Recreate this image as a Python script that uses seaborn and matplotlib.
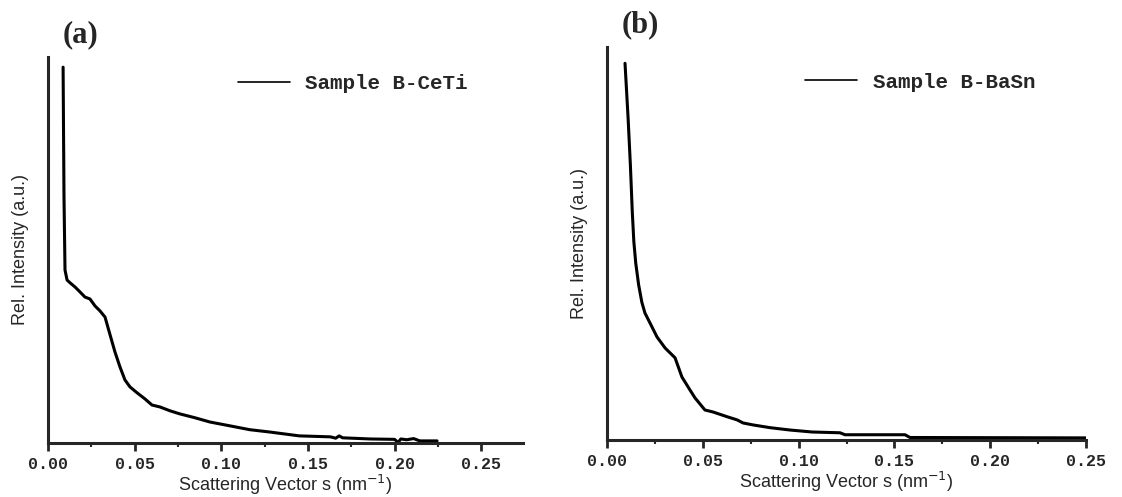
import numpy as np
import pandas as pd
import seaborn as sns
import matplotlib.pyplot as plt
from matplotlib.ticker import MultipleLocator

# scattering vector s (nm^-1) and relative intensity
s_ceti = [0.0087, 0.0092, 0.0092, 0.0098, 0.0110, 0.0127, 0.0156, 0.0185, 0.0213,
          0.0242, 0.0271, 0.0300, 0.0329, 0.0358, 0.0386, 0.0415, 0.0444, 0.0473,
          0.0513, 0.0559, 0.0600, 0.0646, 0.0704, 0.0761, 0.0848, 0.0934, 0.1050,
          0.1165, 0.1280, 0.1450, 0.1630, 0.1660, 0.1680, 0.1700, 0.1860, 0.2000,
          0.2020, 0.2036, 0.2070, 0.2110, 0.2145, 0.2245]
i_ceti = [97.4, 75.9, 52.6, 44.8, 42.2, 41.5, 40.4, 39.1, 37.8,
          37.3, 35.5, 34.2, 32.6, 28.0, 23.6, 19.7, 16.3, 14.5,
          13.0, 11.4, 9.8, 9.3, 8.3, 7.5, 6.5, 5.4, 4.4,
          3.4, 2.8, 1.8, 1.55, 1.2, 1.8, 1.3, 1.0, 0.9,
          0.1, 1.0, 0.8, 1.1, 0.5, 0.5]

s_basn = [0.0094, 0.0110, 0.0122, 0.0132, 0.0140, 0.0150, 0.0165, 0.0182, 0.0198,
          0.0224, 0.0261, 0.0303, 0.0355, 0.0391, 0.0433, 0.0459, 0.0511, 0.0553,
          0.0626, 0.0678, 0.0710, 0.0762, 0.0851, 0.0955, 0.1070, 0.1216, 0.1242,
          0.1555, 0.1581, 0.2500]
i_basn = [95.9, 82.0, 70.0, 58.0, 50.5, 45.0, 39.5, 35.0, 32.3,
          29.8, 26.2, 23.4, 20.9, 16.0, 12.7, 10.7, 7.6, 7.1,
          5.9, 5.1, 4.3, 3.8, 3.1, 2.5, 2.0, 1.8, 1.3,
          1.3, 0.6, 0.5]

panels = ["(a)", "(b)"]
samples = ["Sample B-CeTi", "Sample B-BaSn"]
x_max = [0.274, 0.25]
xticks = [0.00, 0.05, 0.10, 0.15, 0.20, 0.25]
xticklabels = ["0.00", "0.05", "0.10", "0.15", "0.20", "0.25"]

sns.set_style("ticks")
plt.rcParams["font.family"] = ["Liberation Sans", "DejaVu Sans"]

fig = plt.figure(figsize=(11.22, 4.97), dpi=100)
axes = [fig.add_axes([0.0428, 0.109, 0.4232, 0.776]),
        fig.add_axes([0.541, 0.115, 0.427, 0.790])]

data = [pd.DataFrame({"s": s_ceti, "I": i_ceti}),
        pd.DataFrame({"s": s_basn, "I": i_basn})]
leg_pos = [(0.36, 1.005), (0.375, 0.983)]

for ax, df, name, lab, xm, lp in zip(axes, data, samples, panels, x_max, leg_pos):
    sns.lineplot(data=df, x="s", y="I", ax=ax, color="black", lw=2.2,
                 label=name, sort=False)
    ax.set_xlim(0, xm)
    ax.set_ylim(0, 100)
    ax.set_yticks([])
    ax.set_xticks(xticks)
    ax.set_xticklabels(xticklabels, family="Liberation Mono", fontsize=12,
                       fontweight="bold")
    ax.xaxis.set_minor_locator(MultipleLocator(0.025))
    ax.tick_params(axis="x", which="major", direction="out", length=6, width=2, pad=4)
    ax.tick_params(axis="x", which="minor", direction="out", length=3, width=1.5)
    for side in ["top", "right"]:
        ax.spines[side].set_visible(False)
    for side in ["left", "bottom"]:
        ax.spines[side].set_linewidth(2.2)
    ax.set_xlabel(r"Scattering Vector s (nm$^{-1}$)", fontsize=13, labelpad=1)
    ax.set_ylabel("Rel. Intensity (a.u.)", fontsize=13, labelpad=14)
    leg = ax.legend(loc="upper left", bbox_to_anchor=lp, frameon=False,
                    handlelength=2.5, handletextpad=0.75,
                    prop={"family": "Liberation Mono", "size": 15, "weight": "bold"})
    for h in leg.get_lines():
        h.set_linewidth(1.2)
    ax.text(0.03, 1.02, lab, transform=ax.transAxes, fontsize=22,
            family="Liberation Serif", fontweight="bold", va="bottom")

fig.savefig("out.png", dpi=100)
